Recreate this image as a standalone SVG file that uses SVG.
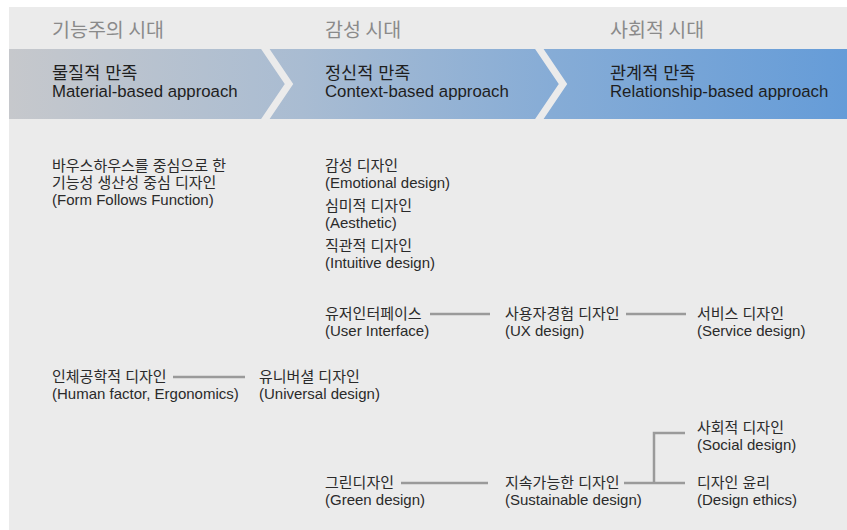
<svg xmlns="http://www.w3.org/2000/svg" width="847" height="530" viewBox="0 0 847 530">
  <defs>
    <linearGradient id="bandFill" x1="0" y1="0" x2="1" y2="0">
      <stop offset="0" stop-color="#c6c8cc"/>
      <stop offset="0.35" stop-color="#a9bcd2"/>
      <stop offset="0.65" stop-color="#86acd6"/>
      <stop offset="1" stop-color="#659cd8"/>
    </linearGradient>
    <style>
      .era { font-family: "Noto Sans CJK KR", "Liberation Sans", sans-serif; font-size: 19.5px; fill: #8a8a8a; }
      .head { font-family: "Liberation Sans", "Noto Sans CJK KR", sans-serif; font-size: 17.5px; fill: #1e1e1e; }
      .sub { font-family: "Liberation Sans", "Noto Sans CJK KR", sans-serif; font-size: 16.8px; fill: #1e1e1e; }
      .t { font-family: "Liberation Sans", "Noto Sans CJK KR", sans-serif; font-size: 15px; fill: #2a2a2a; }
      .link { stroke: #9a9a9a; stroke-width: 2.5; fill: none; }
      .chev { stroke: #ebebeb; stroke-width: 7; fill: none; }
    </style>
  </defs>

  <!-- page -->
  <rect x="0" y="0" width="847" height="530" fill="#ffffff"/>
  <rect x="9" y="7" width="838" height="523" fill="#ebebeb"/>

  <!-- era titles -->
  <g id="eras">
    <text class="era" x="52" y="37">기능주의 시대</text>
    <text class="era" x="325" y="37">감성 시대</text>
    <text class="era" x="610" y="37">사회적 시대</text>
  </g>

  <!-- approach band with chevron dividers -->
  <g id="band">
    <rect x="9" y="49" width="838" height="70" fill="url(#bandFill)"/>
    <polyline class="chev" points="264,47 289,84 264,121"/>
    <polyline class="chev" points="538,47 563,84 538,121"/>
    <text class="head" x="52" y="79">물질적 만족</text>
    <text class="sub" x="52" y="97">Material-based approach</text>
    <text class="head" x="325" y="79">정신적 만족</text>
    <text class="sub" x="325" y="97">Context-based approach</text>
    <text class="head" x="610" y="79">관계적 만족</text>
    <text class="sub" x="610" y="97">Relationship-based approach</text>
  </g>

  <!-- connectors -->
  <g id="connectors">
    <line class="link" x1="430" y1="314" x2="490" y2="314"/>
    <line class="link" x1="626" y1="314" x2="686" y2="314"/>
    <line class="link" x1="173" y1="377" x2="245" y2="377"/>
    <line class="link" x1="401" y1="483" x2="488" y2="483"/>
    <line class="link" x1="624" y1="483" x2="685" y2="483"/>
    <polyline class="link" points="654,483 654,433 685,433"/>
  </g>

  <!-- nodes -->
  <g id="bauhaus">
    <text class="t" x="52" y="171">바우스하우스를 중심으로 한</text>
    <text class="t" x="52" y="188">기능성 생산성 중심 디자인</text>
    <text class="t" x="52" y="205">(Form Follows Function)</text>
  </g>
  <g id="emotional">
    <text class="t" x="325" y="171">감성 디자인</text>
    <text class="t" x="325" y="188">(Emotional design)</text>
  </g>
  <g id="aesthetic">
    <text class="t" x="325" y="211">심미적 디자인</text>
    <text class="t" x="325" y="228">(Aesthetic)</text>
  </g>
  <g id="intuitive">
    <text class="t" x="325" y="251">직관적 디자인</text>
    <text class="t" x="325" y="268">(Intuitive design)</text>
  </g>
  <g id="ui">
    <text class="t" x="325" y="319">유저인터페이스</text>
    <text class="t" x="325" y="336">(User Interface)</text>
  </g>
  <g id="ux">
    <text class="t" x="505" y="319">사용자경험 디자인</text>
    <text class="t" x="505" y="336">(UX design)</text>
  </g>
  <g id="service">
    <text class="t" x="697" y="319">서비스 디자인</text>
    <text class="t" x="697" y="336">(Service design)</text>
  </g>
  <g id="ergonomics">
    <text class="t" x="52" y="382">인체공학적 디자인</text>
    <text class="t" x="52" y="399">(Human factor, Ergonomics)</text>
  </g>
  <g id="universal">
    <text class="t" x="259" y="382">유니버셜 디자인</text>
    <text class="t" x="259" y="399">(Universal design)</text>
  </g>
  <g id="green">
    <text class="t" x="325" y="488">그린디자인</text>
    <text class="t" x="325" y="505">(Green design)</text>
  </g>
  <g id="sustainable">
    <text class="t" x="505" y="488">지속가능한 디자인</text>
    <text class="t" x="505" y="505">(Sustainable design)</text>
  </g>
  <g id="social">
    <text class="t" x="697" y="433">사회적 디자인</text>
    <text class="t" x="697" y="450">(Social design)</text>
  </g>
  <g id="ethics">
    <text class="t" x="697" y="488">디자인 윤리</text>
    <text class="t" x="697" y="505">(Design ethics)</text>
  </g>
</svg>
